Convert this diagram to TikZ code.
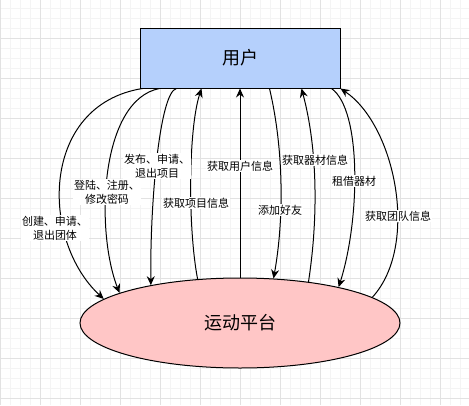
\documentclass[tikz,border=0pt]{standalone}
\usepackage{fontspec}
\setmainfont{Noto Sans CJK SC}
\usepackage{tikz}
\usetikzlibrary{arrows.meta, shapes.geometric}
\definecolor{userblue}{HTML}{B5D0FC}
\definecolor{platpink}{HTML}{FFC6C6}
\definecolor{gridmajor}{HTML}{E2E2E2}
\definecolor{gridminor}{HTML}{F4F4F4}
\tikzset{
  userbox/.style={draw, line width=1pt, fill=userblue, minimum width=200pt,
    minimum height=60pt, inner sep=0pt, font=\fontsize{18}{20}\selectfont},
  platform/.style={draw, line width=1pt, fill=platpink, ellipse, minimum width=320pt,
    minimum height=90pt, inner sep=0pt, font=\fontsize{18}{20}\selectfont},
  edgelbl/.style={fill=white, inner sep=1pt, align=center,
    font=\fontsize{11}{14}\selectfont},
  link/.style={line width=1pt}
}
\begin{document}
\begin{tikzpicture}[x=1pt, y=-1pt, >={Stealth[length=9pt, width=8pt, inset=3pt]}]
    \useasboundingbox (0,0) rectangle (469,405);
    % grid
    \foreach \gx in {10,20,...,460} \draw[gridminor, line width=0.8pt] (\gx,0) -- (\gx,405);
    \foreach \gy in {8,18,...,398} \draw[gridminor, line width=0.8pt] (0,\gy) -- (469,\gy);
    \foreach \gx in {0,40,...,440} \draw[gridmajor, line width=1pt] (\gx,0) -- (\gx,405);
    \foreach \gy in {38,78,...,398} \draw[gridmajor, line width=1pt] (0,\gy) -- (469,\gy);

    \node[userbox] (user) at (240,58) {用户};
    \node[platform] (plat) at (240,323) {运动平台};

    % user -> platform
    \draw[link, ->] ([xshift=3pt]user.south west) .. controls (40,105) and (40,240) .. (plat.170.6);
    \draw[link, ->] ([xshift=20pt]user.south west) .. controls (100,100) and (95,230) .. (plat.166.8);
    \draw[link, ->] ([xshift=37pt]user.south west) .. controls (160,92) and (150,200) .. (plat.157.5);
    \draw[link, ->] ([xshift=130pt]user.south west) .. controls (284,150) and (284,220) .. (plat.53.1);
    \draw[link, ->] ([xshift=192pt]user.south west) .. controls (362,110) and (360,220) .. (plat.20.9);
    % platform -> user
    \draw[link, ->] (plat.134.1) .. controls (188,230) and (188,130) .. ([xshift=62pt]user.south west);
    \draw[link, ->] (plat.north) -- (user.south);
    \draw[link, ->] (plat.31.4) .. controls (318,220) and (318,150) .. ([xshift=162pt]user.south west);
    \draw[link, ->] (plat.11.4) .. controls (420,245) and (395,125) .. (user.south east);

    \node[edgelbl] (l1) at (55,228) {创建、申请、\\退出团体};
    \node[edgelbl] (l2) at (107,192) {登陆、注册、\\修改密码};
    \node[edgelbl] (l3) at (157,166) {发布、申请、\\退出项目};
    \node[edgelbl] (l4) at (196,203) {获取项目信息};
    \node[edgelbl] (l5) at (240,166) {获取用户信息};
    \node[edgelbl] (l6) at (280,210) {添加好友};
    \node[edgelbl] (l7) at (315,160) {获取器材信息};
    \node[edgelbl] (l8) at (354,181) {租借器材};
    \node[edgelbl] (l9) at (398,216) {获取团队信息};
\end{tikzpicture}
\end{document}
